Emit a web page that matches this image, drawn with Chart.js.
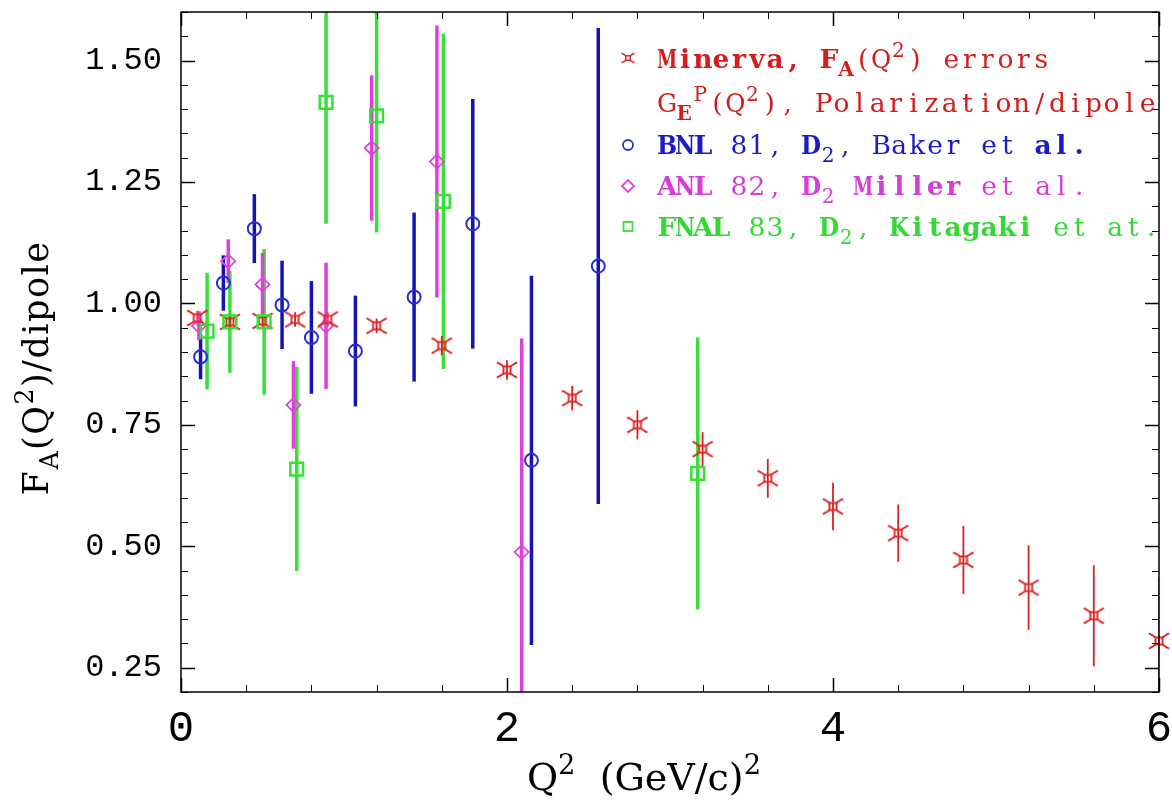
<!DOCTYPE html>
<html>
<head>
<meta charset="utf-8">
<script src="https://cdn.jsdelivr.net/npm/chart.js@4.4.1/dist/chart.umd.min.js"></script>
<style>
  html, body { margin: 0; padding: 0; background: #fff; }
  #wrap { width: 1172px; height: 802px; }
</style>
</head>
<body>
<div id="wrap"><canvas id="faChart"></canvas></div>
<script>
// Minerva projected F_A errors, on the G_E^p polarization / dipole curve
const minervaQ2 = [0.1, 0.3, 0.5, 0.7, 0.9, 1.2, 1.6, 2.0, 2.4, 2.8, 3.2, 3.6, 4.0, 4.4, 4.8, 5.2, 5.6, 6.0];
const minervaFA = [0.970, 0.962, 0.964, 0.967, 0.967, 0.954, 0.913, 0.863, 0.805, 0.750, 0.700, 0.640, 0.582, 0.527, 0.472, 0.415, 0.357, 0.305];
const minervaErr = [0.015, 0.015, 0.015, 0.015, 0.015, 0.015, 0.02, 0.02, 0.025, 0.03, 0.035, 0.04, 0.049, 0.059, 0.07, 0.087, 0.104, 0.13];

// BNL 81, D2 (Baker et al.)
const bnlQ2 = [0.12, 0.26, 0.45, 0.62, 0.80, 1.07, 1.43, 1.79, 2.15, 2.56];
const bnlFA = [0.890, 1.042, 1.154, 0.997, 0.930, 0.902, 1.013, 1.164, 0.677, 1.077];
const bnlErr = [0.046, 0.057, 0.071, 0.091, 0.116, 0.114, 0.174, 0.257, 0.38, 0.49];

// ANL 82, D2 (Miller et al.)
const anlQ2 = [0.11, 0.29, 0.50, 0.69, 0.89, 1.17, 1.57, 2.09];
const anlFA = [0.954, 1.087, 1.039, 0.791, 0.954, 1.320, 1.292, 0.488];
const anlErr = [0.03, 0.045, 0.065, 0.09, 0.13, 0.15, 0.28, 0.44];

// FNAL 83, D2 (Kitagaki et al.)
const fnalQ2 = [0.16, 0.30, 0.51, 0.71, 0.89, 1.20, 1.61, 3.17];
const fnalFA = [0.943, 0.962, 0.962, 0.659, 1.414, 1.386, 1.210, 0.650];
const fnalErr = [0.12, 0.105, 0.15, 0.21, 0.25, 0.24, 0.345, 0.28];

const xTicks = [0, 2, 4, 6];
const yTicks = [0.25, 0.50, 0.75, 1.00, 1.25, 1.50];

const RED = '#e02626', BLUE = '#2c2cd6', MAGENTA = '#e044e0', GREEN = '#36e036';
const SERIF = '"DejaVu Serif", serif';
const MONO = '"Liberation Mono", "DejaVu Sans Mono", monospace';

const pts = (xs, ys) => xs.map((v, i) => ({ x: v, y: ys[i] }));

// little square with curved spurs, like the IDL symbol used for Minerva
function makeStar(size, color, lw) {
  const c = document.createElement('canvas');
  c.width = c.height = size;
  const g = c.getContext('2d');
  const m = size / 2, h = size * 0.16, s = size * 0.46;
  g.strokeStyle = color;
  g.lineWidth = lw;
  g.strokeRect(m - h, m - h, 2 * h, 2 * h);
  [[1, 1], [1, -1], [-1, 1], [-1, -1]].forEach(([dx, dy]) => {
    g.beginPath();
    g.moveTo(m + dx * h, m + dy * h);
    g.quadraticCurveTo(m + dx * s * 0.5, m + dy * h * 1.4, m + dx * s, m + dy * s * 0.75);
    g.stroke();
  });
  return c;
}

function richWidth(g, parts, size, family) {
  let w = 0;
  parts.forEach(p => {
    const fs = (p.sub || p.sup) ? size * 0.72 : size;
    g.font = (p.b ? 'bold ' : '') + fs + 'px ' + family;
    w += g.measureText(p.t).width;
  });
  return w;
}

function drawRich(g, x, y, parts, size, family, color) {
  g.fillStyle = color;
  g.textAlign = 'left';
  g.textBaseline = 'alphabetic';
  parts.forEach(p => {
    const fs = (p.sub || p.sup) ? size * 0.72 : size;
    g.font = (p.b ? 'bold ' : '') + fs + 'px ' + family;
    const dy = p.sub ? size * 0.28 : p.sup ? -size * 0.42 : 0;
    g.fillText(p.t, x, y + dy);
    x += g.measureText(p.t).width;
  });
  return x;
}

// legend text: a serif set on a fixed character pitch, like the typewriter face of the original
function drawCells(g, x, y, parts, size, cell, color) {
  g.fillStyle = color;
  g.textAlign = 'center';
  g.textBaseline = 'alphabetic';
  parts.forEach(p => {
    const small = p.sub || p.sup;
    const fs = small ? size * 0.76 : size;
    const cw = small ? cell * 0.9 : cell;
    const dy = p.sub ? size * 0.3 : p.sup ? -size * 0.42 : 0;
    g.font = (p.b ? 'bold ' : '') + fs + 'px ' + SERIF;
    for (const ch of p.t) {
      const w = g.measureText(ch).width;
      const maxW = cw * 1.12;
      g.save();
      g.translate(x + cw / 2, y + dy);
      if (w > maxW) g.scale(maxW / w, 1);
      g.fillText(ch, 0, 0);
      g.restore();
      x += cw;
    }
  });
}

const errorBars = {
  id: 'errorBars',
  beforeDatasetsDraw(chart) {
    const { ctx: g, chartArea: a, scales: { x, y } } = chart;
    g.save();
    g.beginPath();
    g.rect(a.left, a.top, a.right - a.left, a.bottom - a.top);
    g.clip();
    chart.data.datasets.forEach(ds => {
      g.strokeStyle = ds.barColor;
      g.lineWidth = ds.barWidth;
      ds.data.forEach((p, i) => {
        const px = x.getPixelForValue(p.x);
        g.beginPath();
        g.moveTo(px, y.getPixelForValue(p.y - ds.err[i]));
        g.lineTo(px, y.getPixelForValue(p.y + ds.err[i]));
        g.stroke();
      });
    });
    g.restore();
  }
};

// box frame with inward ticks on all four sides, titles and legend
const frame = {
  id: 'frame',
  afterDraw(chart) {
    const { ctx: g, chartArea: a, scales: { x, y } } = chart;
    g.save();
    g.strokeStyle = '#000';
    g.lineWidth = 1.5;
    g.strokeRect(a.left, a.top, a.right - a.left, a.bottom - a.top);
    const line = (x1, y1, x2, y2) => { g.beginPath(); g.moveTo(x1, y1); g.lineTo(x2, y2); g.stroke(); };
    for (let i = 0; i <= 15; i++) {
      const v = i * 0.4;
      const major = xTicks.some(t => Math.abs(t - v) < 1e-6);
      const L = major ? 14 : 7;
      g.lineWidth = major ? 1.5 : 1;
      const px = Math.round(x.getPixelForValue(v)) + 0.5;
      line(px, a.bottom, px, a.bottom - L);
      line(px, a.top, px, a.top + L);
    }
    for (let i = 0; i <= 28; i++) {
      const v = 0.2 + i * 0.05;
      const major = yTicks.some(t => Math.abs(t - v) < 1e-6);
      const L = major ? 14 : 7;
      g.lineWidth = major ? 1.5 : 1;
      const py = Math.round(y.getPixelForValue(v)) + 0.5;
      line(a.left, py, a.left + L, py);
      line(a.right, py, a.right - L, py);
    }

    // axis titles
    const xt = [{ t: 'Q' }, { t: '2', sup: true }, { t: '  (GeV/c)' }, { t: '2', sup: true }];
    const xw = richWidth(g, xt, 38, SERIF);
    drawRich(g, (a.left + a.right) / 2 - 26 - xw / 2, 790, xt, 38, SERIF, '#000');

    const yt = [{ t: 'F' }, { t: 'A', sub: true }, { t: '(Q' }, { t: '2', sup: true }, { t: ')/dipole' }];
    g.save();
    g.translate(48, 368);
    g.rotate(-Math.PI / 2);
    g.letterSpacing = '1.5px';
    const yw = richWidth(g, yt, 35, SERIF);
    drawRich(g, -yw / 2, 0, yt, 35, SERIF, '#000');
    g.restore();

    // legend
    const lx = 658, mx = 628;
    const rows = [
      { y: 68, color: '#d41c1c', parts: [{ t: 'Minerva, ', b: true }, { t: 'F', b: true }, { t: 'A', sub: true, b: true }, { t: '(Q' }, { t: '2', sup: true }, { t: ') errors' }] },
      { y: 112, color: '#d41c1c', parts: [{ t: 'G' }, { t: 'E', sub: true, b: true }, { t: 'P', sup: true }, { t: '(Q' }, { t: '2', sup: true }, { t: '), Polarization/dipole' }] },
      { y: 154, color: '#1c1cc4', parts: [{ t: 'BNL', b: true }, { t: ' 81, ' }, { t: 'D', b: true }, { t: '2', sub: true }, { t: ', Baker et ' }, { t: 'al.', b: true }] },
      { y: 195, color: '#d83cd8', parts: [{ t: 'ANL', b: true }, { t: ' 82, ' }, { t: 'D', b: true }, { t: '2', sub: true }, { t: ' Miller', b: true }, { t: ' et al.' }] },
      { y: 236, color: '#34d834', parts: [{ t: 'FNAL', b: true }, { t: ' 83, ' }, { t: 'D', b: true }, { t: '2', sub: true }, { t: ', ' }, { t: 'Kitagaki', b: true }, { t: ' et at.' }] }
    ];
    rows.forEach(r => drawCells(g, lx, r.y, r.parts, 26.5, 18, r.color));

    g.drawImage(makeStar(14, RED, 1.5), mx - 7, 51);
    g.lineWidth = 1.8;
    g.strokeStyle = BLUE;
    g.beginPath(); g.arc(mx, 145, 5, 0, Math.PI * 2); g.stroke();
    g.strokeStyle = MAGENTA;
    g.beginPath(); g.moveTo(mx, 180); g.lineTo(mx + 6, 186); g.lineTo(mx, 192); g.lineTo(mx - 6, 186); g.closePath(); g.stroke();
    g.strokeStyle = GREEN;
    g.strokeRect(mx - 4.5, 222, 9, 9);
    g.restore();
  }
};

const ctx = document.getElementById('faChart');

new Chart(ctx, {
  type: 'scatter',
  data: {
    datasets: [
      {
        label: 'FNAL 83, D2, Kitagaki et at.',
        data: pts(fnalQ2, fnalFA),
        err: fnalErr, barColor: GREEN, barWidth: 3.5,
        pointStyle: 'rect', pointRadius: 9, borderColor: GREEN, borderWidth: 2.5,
        backgroundColor: 'rgba(0,0,0,0)'
      },
      {
        label: 'Minerva, FA(Q2) errors',
        data: pts(minervaQ2, minervaFA),
        err: minervaErr, barColor: '#d82020', barWidth: 1.8,
        pointStyle: makeStar(22, RED, 1.9), pointRadius: 11,
        borderColor: RED, backgroundColor: RED
      },
      {
        label: 'BNL 81, D2, Baker et al.',
        data: pts(bnlQ2, bnlFA),
        err: bnlErr, barColor: '#1414b4', barWidth: 3.5,
        pointStyle: 'circle', pointRadius: 6.5, borderColor: BLUE, borderWidth: 2,
        backgroundColor: 'rgba(0,0,0,0)'
      },
      {
        label: 'ANL 82, D2 Miller et al.',
        data: pts(anlQ2, anlFA),
        err: anlErr, barColor: '#e03ce0', barWidth: 3.5,
        pointStyle: 'rectRot', pointRadius: 7, borderColor: MAGENTA, borderWidth: 1.8,
        backgroundColor: 'rgba(0,0,0,0)'
      }
    ]
  },
  options: {
    responsive: true,
    maintainAspectRatio: false,
    animation: false,
    clip: false,
    layout: { padding: { top: 8, right: 13, left: 0, bottom: 0 } },
    plugins: {
      legend: { display: false },
      tooltip: { enabled: false }
    },
    scales: {
      x: {
        type: 'linear',
        min: 0,
        max: 6,
        afterBuildTicks: s => { s.ticks = xTicks.map(v => ({ value: v })); },
        afterFit: s => { s.height = 110; s.paddingLeft = 0; s.paddingRight = 0; },
        grid: { display: false, drawTicks: false },
        border: { display: false },
        ticks: {
          padding: 11,
          color: '#000',
          font: { family: MONO, size: 44 },
          maxRotation: 0,
          callback: v => String(v)
        }
      },
      y: {
        type: 'linear',
        min: 0.2,
        max: 1.6,
        afterBuildTicks: s => { s.ticks = yTicks.map(v => ({ value: v })); },
        afterFit: s => { s.width = 181; s.paddingTop = 0; s.paddingBottom = 0; },
        grid: { display: false, drawTicks: false },
        border: { display: false },
        ticks: {
          padding: 19,
          color: '#000',
          font: { family: MONO, size: 32 },
          callback: v => v.toFixed(2)
        }
      }
    }
  },
  plugins: [errorBars, frame]
});
</script>
</body>
</html>
